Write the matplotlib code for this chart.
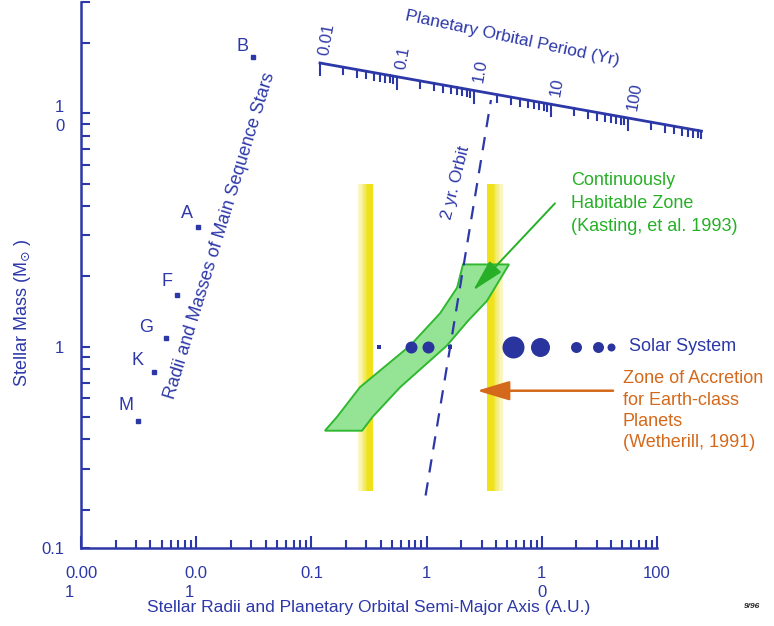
import numpy as np
import matplotlib
matplotlib.use("Agg")
import matplotlib.pyplot as plt
from matplotlib.colors import to_rgb
from matplotlib.ticker import LogLocator, NullFormatter

plt.rcParams['font.family'] = ['Liberation Sans', 'DejaVu Sans']

BLUE = '#2d38a8'
GREEN = '#27b027'
ORANGE = '#d4691c'

# --- datos: estrellas de secuencia principal (radio en UA, masa en Msol) ---
star_types = ['B', 'A', 'F', 'G', 'K', 'M']
star_radius = [0.031, 0.0104, 0.0068, 0.0055, 0.0043, 0.0031]
star_mass = [17.4, 3.24, 1.66, 1.09, 0.78, 0.48]
star_label_off = [(-10, 11), (-11, 14), (-10, 14), (-20, 10), (-16, 11), (-12, 15)]

# --- sistema solar ---
planet_a = [0.39, 0.73, 1.03, 1.6, 5.6, 9.6, 19.8, 31, 40]
planet_mass = [1, 1, 1, 1, 1, 1, 1, 1, 1]
planet_px = [5, 12, 12, 4, 22, 19, 11, 11, 8]
planet_marker = ['s', 'o', 'o', 's', 'o', 'o', 'o', 'o', 'o']

# --- zona habitable continua (poligono) ---
hz_a = [2.07, 5.19, 3.34, 2.29, 1.50, 0.59, 0.34, 0.275, 0.131, 0.167, 0.264, 0.72, 1.31, 1.84]
hz_m = [2.25, 2.25, 1.57, 1.29, 1.01, 0.67, 0.50, 0.436, 0.436, 0.50, 0.67, 1.01, 1.39, 1.79]

# --- zona de acrecion (bandas amarillas) ---
acc_inner = [0.254, 0.343]
acc_outer = [3.34, 4.6]
acc_mass = [0.24, 5.0]

# --- orbita de 2 anios ---
orbit_a = [0.98, 3.62]
orbit_m = [0.23, 11.4]

# --- eje de periodo orbital ---
period_ticks = [0.01, 0.1, 1.0, 10, 100]
period_labels = ['0.01', '0.1', '1.0', '10', '100']
period_max = 900

x_ticks = [0.001, 0.01, 0.1, 1, 10, 100]
x_labels = ['0.00\n1', '0.0\n1', '0.1', '1', '1\n0', '100']
y_lims = [0.137, 30]
y_ticks = [0.137, 1, 10]
y_labels = ['0.1', '1', '1\n0']

fig = plt.figure(figsize=(7.74, 6.26), dpi=100)
ax = fig.add_axes([81 / 774, 78 / 626, 576 / 774, 546 / 626])
ax.set_xscale('log')
ax.set_yscale('log')
ax.set_xlim(0.001, 100)
ax.set_ylim(*y_lims)

for s in ['top', 'right']:
    ax.spines[s].set_visible(False)
for s in ['left', 'bottom']:
    ax.spines[s].set_color(BLUE)
    ax.spines[s].set_linewidth(1.8)

ax.set_xticks(x_ticks)
ax.set_xticklabels(x_labels)
ax.set_yticks(y_ticks)
ax.set_yticklabels(y_labels)
ax.xaxis.set_minor_locator(LogLocator(base=10, subs=np.arange(2, 10)))
ax.yaxis.set_minor_locator(LogLocator(base=10, subs=np.arange(2, 10)))
ax.xaxis.set_minor_formatter(NullFormatter())
ax.yaxis.set_minor_formatter(NullFormatter())
ax.tick_params(axis='x', which='major', direction='in', length=9, width=1.5, color=BLUE,
               labelcolor=BLUE, labelsize=12, pad=13)
ax.tick_params(axis='x', which='minor', direction='in', length=5.5, width=1.5, color=BLUE)
ax.tick_params(axis='y', which='both', direction='in', length=6.5, width=1.5, color=BLUE,
               labelcolor=BLUE, labelsize=12, pad=12)
for t in ax.get_xticklabels() + ax.get_yticklabels():
    t.set_multialignment('left')
    t.set_linespacing(1.35)

ax.set_xlabel('Stellar Radii and Planetary Orbital Semi-Major Axis (A.U.)', color=BLUE,
              fontsize=12.5, labelpad=0)
ax.set_ylabel(r'Stellar Mass (M$_{\odot}$ )', color=BLUE, fontsize=13)
ax.yaxis.set_label_coords(-0.084, 0.43)

# bandas amarillas con degradado
deep = np.array(to_rgb('#efe21a'))
light = np.array(to_rgb('#fbf7c8'))
n = 12
for lo_hi, deep_side in [(acc_inner, 1), (acc_outer, 0)]:
    l0, l1 = np.log10(lo_hi[0]), np.log10(lo_hi[1])
    edges = np.linspace(l0, l1, n + 1)
    for i in range(n):
        f = (i + 0.5) / n
        w = f if deep_side == 1 else 1 - f
        w = min(1, w * 1.6) ** 1.5
        c = light + (deep - light) * w
        ax.fill_betweenx(acc_mass, 10 ** edges[i], 10 ** edges[i + 1], color=c, lw=0, zorder=1)

# zona habitable
ax.fill(hz_a, hz_m, facecolor='#95e495', edgecolor='#30b830', lw=1.4, zorder=2)

# orbita de 2 anios
ax.plot(orbit_a, orbit_m, color=BLUE, lw=1.6, dashes=(6, 4.5), zorder=3)
ax.text(1.80, 5.06, '2 yr. Orbit', rotation=76, color=BLUE, fontsize=12.5,
        ha='center', va='center', zorder=4)

# estrellas
ax.plot(star_radius, star_mass, 's', color=BLUE, ms=3.2, zorder=4)
for name, r, m, off in zip(star_types, star_radius, star_mass, star_label_off):
    ax.annotate(name, (r, m), xytext=off, textcoords='offset pixels', color=BLUE,
                fontsize=13, ha='center', va='center')
ax.text(0.0161, 2.99, 'Radii and Masses of Main Sequence Stars', rotation=72.9, color=BLUE,
        fontsize=13, ha='center', va='center')

# planetas
for a, m, px, mk in zip(planet_a, planet_mass, planet_px, planet_marker):
    ax.plot(a, m, mk, color='#2a349e', ms=px * 0.72, mew=0, zorder=5)
ax.text(57, 1.0, 'Solar System', color=BLUE, fontsize=13, ha='left', va='center')

# anotaciones
ax.annotate('', xy=(2.53, 1.74), xytext=(13.0, 4.11),
            arrowprops=dict(arrowstyle='-|>,head_length=1.0,head_width=0.25', color=GREEN,
                            lw=1.4, mutation_scale=20, shrinkA=0, shrinkB=0), zorder=6)
ax.text(17.9, 5.6, 'Continuously\nHabitable Zone\n(Kasting, et al. 1993)', color=GREEN,
        fontsize=13, ha='left', va='top', linespacing=1.45)

ax.annotate('', xy=(2.74, 0.647), xytext=(41.5, 0.647),
            arrowprops=dict(arrowstyle='-|>,head_length=1.0,head_width=0.3', color=ORANGE,
                            lw=1.8, mutation_scale=20, shrinkA=0, shrinkB=0), zorder=6)
ax.text(50.5, 0.79, 'Zone of Accretion\nfor Earth-class\nPlanets\n(Wetherill, 1991)',
        color=ORANGE, fontsize=13, ha='left', va='top', linespacing=1.32)

# eje superior de periodo orbital (dibujado en pixeles de la figura)
ov = fig.add_axes([0, 0, 1, 1], facecolor='none')
ov.set_xlim(0, 774)
ov.set_ylim(626, 0)
ov.axis('off')
p0 = np.array([320.0, 63.0])
dec = np.array([77.0, 13.75])
p_end = p0 + dec * np.log10(period_max / period_ticks[0])
ov.plot([p0[0], p_end[0]], [p0[1], p_end[1]], color=BLUE, lw=2)
for e in range(-2, 3):
    for k in range(1, 10):
        v = k * 10.0 ** e
        if v > period_max:
            continue
        x, y = p0 + dec * np.log10(v / period_ticks[0])
        ln = 12 if k == 1 else 7
        ov.plot([x, x], [y, y + ln], color=BLUE, lw=1.5)
for v, lab in zip(period_ticks, period_labels):
    x, y = p0 + dec * np.log10(v / period_ticks[0])
    ov.text(x + 4, y - 8, lab, rotation=80, rotation_mode='anchor', ha='left', va='center',
            color=BLUE, fontsize=12)
ov.text(512, 38, 'Planetary Orbital Period (Yr)', rotation=-12, ha='center', va='center',
        color=BLUE, fontsize=12.5)
ov.text(752, 606, '9/96', ha='center', va='center', fontsize=6, style='italic',
        weight='bold', color='#222222')

fig.savefig('out.png', dpi=100)
